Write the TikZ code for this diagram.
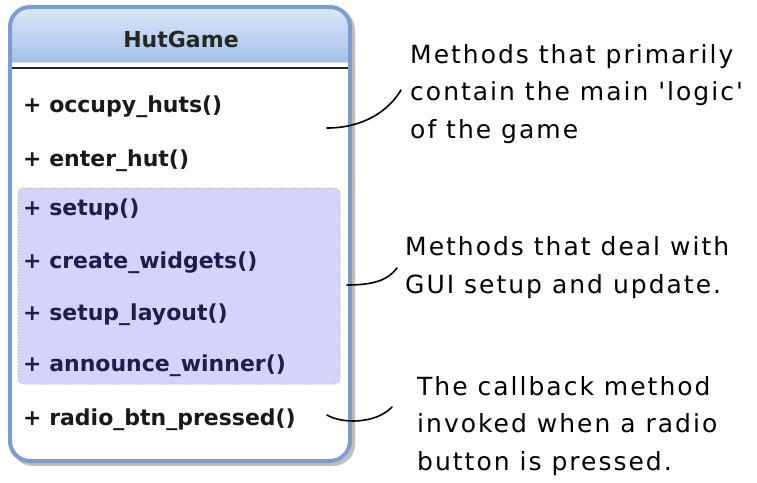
\documentclass[tikz,border=0pt]{standalone}
\usepackage{fontspec}
\setmainfont{DejaVu Sans}
\newfontfamily\notefont{DejaVu Sans}[LetterSpace=8]
\usepackage{tikz}
\usetikzlibrary{positioning}

\definecolor{hutborder}{HTML}{7B9DD0}
\definecolor{hutheadtop}{HTML}{DDE8F8}
\definecolor{hutheadbot}{HTML}{A4C0EA}
\definecolor{guifill}{HTML}{D4D4FA}
\definecolor{guitext}{HTML}{1E1E4A}

\tikzset{
  method/.style={anchor=base west,inner sep=0pt,font=\bfseries\fontsize{22}{26}\selectfont,text=black!90},
  guimethod/.style={method,text=guitext},
  note/.style={anchor=base west,inner sep=0pt,align=left,font=\notefont\fontsize{25}{37.5}\selectfont},
  brace/.style={line width=1.6pt,line cap=round}
}

\begin{document}
\begin{tikzpicture}[x=1pt,y=-1pt]
  \useasboundingbox (0,0) rectangle (757,482);
  % class box
  \draw[line width=4pt,black!25,rounded corners=20pt] (13,10) rectangle (353,464);
  \fill[white,rounded corners=20pt] (10,7) rectangle (350,461);
  \fill[top color=hutheadtop,bottom color=hutheadbot] (10,62) [rounded corners=20pt] -- (10,7) -- (350,7) [sharp corners] -- (350,62) -- cycle;
  \draw[line width=1.3pt,black!85] (10,68) -- (350,68);
  \filldraw[fill=guifill,draw=black!30,line width=1pt,dotted,rounded corners=6pt] (18,188) rectangle (340,384);
  \draw[hutborder,line width=4pt,rounded corners=20pt] (10,7) rectangle (350,461);
  \node[anchor=base,inner sep=0pt,font=\bfseries\fontsize{22}{26}\selectfont,text=black!85] (hut) at (181,47) {HutGame};
  % methods
  \node[method]    (occupy)   at (23,112) {+ occupy\_huts()};
  \node[method]    (enter)    at (23,166) {+ enter\_hut()};
  \node[guimethod] (setup)    at (23,215) {+ setup()};
  \node[guimethod] (widgets)  at (23,268) {+ create\_widgets()};
  \node[guimethod] (layout)   at (23,320) {+ setup\_layout()};
  \node[guimethod] (announce) at (23,371) {+ announce\_winner()};
  \node[method]    (radio)    at (23,425) {+ radio\_btn\_pressed()};
  % notes (base = last line)
  \node[note] (logicnote) at (410,138) {Methods that primarily\\contain the main 'logic'\\of the game};
  \node[note] (guinote) at (405,293) {Methods that deal with\\GUI setup and update.};
  \node[note] (cbnote) at (417,470) {The callback method\\invoked when a radio\\button is pressed.};
  \coordinate (logicfrom) at (327,128);
  \coordinate (logicto)   at (401,90);
  \coordinate (guifrom)   at (347,285);
  \coordinate (guito)     at (397,268);
  \coordinate (cbfrom)    at (327,415);
  \coordinate (cbto)      at (392,407);
  \draw[brace] (logicfrom) .. controls (362,128) and (388,112) .. (logicto);
  \draw[brace] (guifrom) .. controls (374,285) and (388,280) .. (guito);
  \draw[brace] (cbfrom) .. controls (342,424) and (376,424) .. (cbto);
\end{tikzpicture}
\end{document}
